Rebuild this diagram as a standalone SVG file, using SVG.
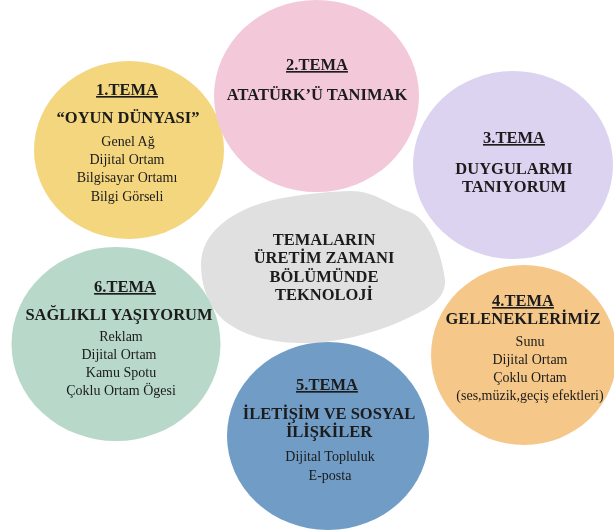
<svg xmlns="http://www.w3.org/2000/svg" width="614" height="531" viewBox="0 0 614 531">
<style>
text{font-family:"Liberation Serif","Times New Roman",serif;fill:#1a1a1a;text-anchor:middle}
.h{font-size:16.500px;font-weight:bold;text-decoration:underline}
.t{font-size:16.500px;font-weight:bold}
.b{font-size:14px}
</style>
<defs><filter id="s" x="-5%" y="-5%" width="110%" height="110%"><feGaussianBlur stdDeviation="0.35"/></filter></defs>
<rect width="614" height="531" fill="#ffffff"/>
<g id="connectors"/>
<g filter="url(#s)">
<g id="center">
<path d="M201 265C201 238 222 216 262 203C285 196 320 192 350 191C376 191 388 205 410 212C428 219 441 250 445 280C446 298 430 308 412 316C385 330 340 344 300 343C265 342 232 333 216 312C206 298 201 282 201 265Z" fill="#e0e0e0"/>
<text class="t" x="324" y="245">TEMALARIN</text>
<text class="t" x="324" y="263">ÜRETİM ZAMANI</text>
<text class="t" x="324" y="282">BÖLÜMÜNDE</text>
<text class="t" x="324" y="300">TEKNOLOJİ</text>
</g>
<g id="tema1">
<ellipse cx="129" cy="150" rx="95" ry="89" fill="#f4d67f"/>
<text class="h" x="127" y="95">1.TEMA</text>
<text class="t" x="128" y="123">“OYUN DÜNYASI”</text>
<text class="b" x="128" y="146">Genel Ağ</text>
<text class="b" x="127" y="164">Dijital Ortam</text>
<text class="b" x="127" y="182">Bilgisayar Ortamı</text>
<text class="b" x="127" y="201">Bilgi Görseli</text>
</g>
<g id="tema2">
<ellipse cx="316.500" cy="96" rx="102.500" ry="96" fill="#f3c8d9"/>
<text class="h" x="317" y="70">2.TEMA</text>
<text class="t" x="317" y="100">ATATÜRK’Ü TANIMAK</text>
</g>
<g id="tema3">
<ellipse cx="513" cy="165" rx="100" ry="94" fill="#dcd3f1"/>
<text class="h" x="514" y="143">3.TEMA</text>
<text class="t" x="514" y="174">DUYGULARMI</text>
<text class="t" x="514" y="192">TANIYORUM</text>
</g>
<g id="tema4">
<ellipse cx="524" cy="355" rx="93" ry="90" fill="#f5c88a"/>
<text class="h" x="523" y="306">4.TEMA</text>
<text class="t" x="523" y="324">GELENEKLERİMİZ</text>
<text class="b" x="530" y="346">Sunu</text>
<text class="b" x="530" y="364">Dijital Ortam</text>
<text class="b" x="530" y="382">Çoklu Ortam</text>
<text class="b" x="530" y="400">(ses,müzik,geçiş efektleri)</text>
</g>
<g id="tema5">
<ellipse cx="328" cy="436" rx="101" ry="94" fill="#6f9cc6"/>
<text class="h" x="327" y="390">5.TEMA</text>
<text class="t" x="329" y="419">İLETİŞİM VE SOSYAL</text>
<text class="t" x="329" y="437">İLİŞKİLER</text>
<text class="b" x="330" y="461">Dijital Topluluk</text>
<text class="b" x="330" y="480">E-posta</text>
</g>
<g id="tema6">
<ellipse cx="116" cy="344" rx="104.500" ry="97" fill="#b8d8ca"/>
<text class="h" x="125" y="292">6.TEMA</text>
<text class="t" x="119" y="320">SAĞLIKLI YAŞIYORUM</text>
<text class="b" x="121" y="341">Reklam</text>
<text class="b" x="119" y="359">Dijital Ortam</text>
<text class="b" x="121" y="377">Kamu Spotu</text>
<text class="b" x="121" y="395">Çoklu Ortam Ögesi</text>
</g>
</g>
</svg>
